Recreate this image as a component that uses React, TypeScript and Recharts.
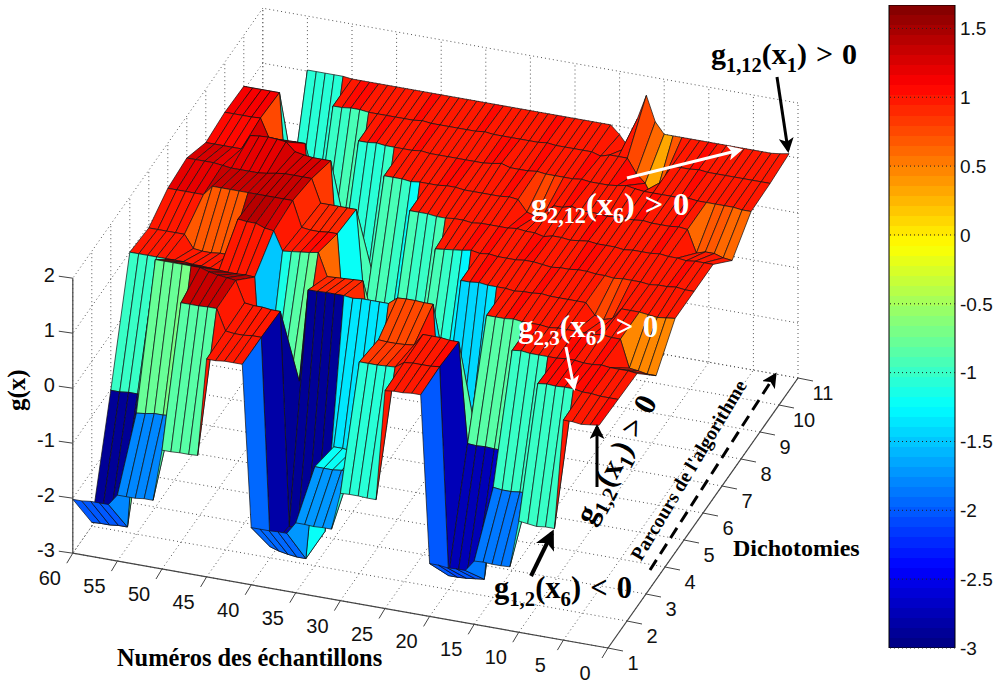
import React from 'react';
import { BarChart, Bar, ScatterChart, Scatter, XAxis, YAxis, ReferenceLine } from 'recharts';

// g(x) for samples 1..60, one list per dichotomy, grouped by class (5 samples each)
const dich1 = [
  1.02, 1.0, 0.98, 1.0, 1.0, -1.0, -1.0, -1.02, -1.0, -0.98, -1.84, -1.85, -1.85, -1.84, -1.85,
  -2.05, -2.05, -2.06, -2.04, -2.04, 1.0, 1.0, 0.98, 0.98, 0.96, -1.05, -1.05, -1.04, -1.04, -1.05,
  -1.73, -1.73, -1.74, -1.73, -1.73, -1.95, -1.95, -1.96, -1.96, -1.96, 0.98, 0.98, 0.98, 0.96, 0.96,
  -0.82, -0.83, -0.83, -0.84, -0.84, -1.78, -1.78, -1.8, -1.8, -1.8, -2.0, -2.0, -2.0, -2.02, -2.02,
];
const dich2 = [
  1.0, 1.0, 1.0, 1.02, 1.02, 1.05, 1.05, 1.04, 1.05, 1.03, -1.0, -1.0, -1.02, -1.02, -1.0,
  -2.7, -2.72, -2.74, -2.75, -2.75, 1.02, 1.0, 1.0, 1.0, 0.98, 0.87, 0.86, 0.85, 0.85, 0.85,
  -1.18, -1.18, -1.2, -1.2, -1.2, -2.9, -2.9, -2.88, -2.85, -2.8, 0.98, 0.98, 0.96, 0.96, 0.98,
  1.36, 1.36, 1.35, 1.35, 1.35, -0.73, -0.75, -0.75, -0.78, -0.8, -2.9, -2.9, -2.92, -2.92, -2.93,
];
const dich3 = [
  0.98, 1.0, 1.0, 1.0, 1.02, 1.0, 1.0, 1.02, 1.02, 1.0, 1.0, 1.0, 1.0, 1.02, 1.0,
  -0.85, -0.85, -0.84, -0.85, -0.84, 0.98, 0.98, 1.0, 1.0, 1.0, 0.78, 0.76, 0.75, 0.75, 0.76,
  -1.34, -1.34, -1.35, -1.33, -1.33, -2.9, -2.9, -2.9, -2.92, -2.92, 0.96, 0.96, 0.98, 0.98, 1.0,
  1.38, 1.4, 1.42, 1.45, 1.5, 1.5, 1.5, 1.5, 1.5, 1.5, -1.0, -1.0, -1.0, -1.02, -1.02,
];
const dich4 = [
  0.45, 0.45, 0.48, 0.5, 1.0, 1.0, 1.02, 1.0, 1.0, 1.0, 1.0, 1.0, 0.98, 1.0, 1.0,
  1.0, 1.02, 1.0, 1.0, 1.0, -1.35, -1.4, -1.45, -1.4, -1.35, 1.03, 1.03, 1.04, 1.04, 1.03,
  0.9, 0.9, 0.9, 0.9, 0.88, 0.9, 0.9, 0.9, 0.89, 0.89, -0.8, -0.85, -0.9, -1.15, -1.5,
  0.95, 0.96, 0.95, 0.95, 0.96, 0.97, 0.98, 0.98, 1.0, 1.0, 1.0, 1.0, 1.0, 1.0, 1.0,
];
const dich5 = [
  1.0, 0.98, 0.96, 0.98, 1.0, 1.0, 1.0, 0.8, 0.75, 0.8, 1.0, 1.0, 1.0, 1.0, 1.0,
  1.02, 1.0, 1.0, 0.98, 1.0, 1.0, 1.0, 1.02, 1.0, 1.0, -1.3, -1.05, -1.0, -0.95, -0.95,
  -0.7, -0.72, -0.75, -0.78, -0.8, 0.68, 0.67, 0.66, 0.65, 0.64, 1.05, 1.02, 1.0, 0.98, 0.96,
  1.3, 1.32, 1.38, 1.38, 1.4, 0.72, 0.72, 0.7, 0.7, 0.72, 0.95, 0.95, 0.95, 0.95, 0.95,
];
const dich6 = [
  1.0, 1.0, 1.02, 1.0, 1.0, 0.98, 1.0, 1.0, 1.0, 0.98, 1.0, 1.0, 1.02, 1.02, 1.0,
  1.0, 0.98, 1.0, 1.02, 1.02, 1.0, 1.0, 1.0, 1.02, 1.0, 1.03, 1.0, 0.98, 0.96, 0.94,
  -0.9, -1.0, -1.0, -0.95, -1.0, -1.1, -1.2, -1.2, -1.2, -1.2, 0.9, 0.9, 0.88, 0.88, 0.9,
  1.36, 1.36, 1.36, 1.36, 1.36, 1.36, 1.36, 1.36, 1.36, 1.36, 1.18, 1.18, 1.18, 1.18, 1.18,
];
const dich7 = [
  1.0, 1.0, 1.0, 0.98, 1.0, 1.0, 1.02, 1.0, 1.0, 1.0, 0.98, 1.0, 1.0, 1.0, 1.02,
  1.0, 0.98, 1.0, 1.0, 0.96, 1.0, 1.0, 1.02, 1.0, 1.0, 1.0, 1.0, 0.98, 1.0, 1.0,
  0.98, 0.98, 1.0, 1.0, 1.0, -1.2, -1.0, -0.95, -0.95, -0.95, 0.85, 0.85, 0.85, 0.85, 0.85,
  1.27, 1.27, 1.27, 1.27, 1.25, 1.22, 1.2, 1.2, 1.2, 1.2, 1.22, 1.24, 1.24, 1.24, 1.24,
];
const dich8 = [
  0.58, 0.6, 0.65, 0.65, 0.6, 1.0, 1.02, 1.0, 1.0, 1.0, 1.02, 1.0, 1.0, 1.0, 0.98,
  1.0, 1.0, 1.0, 1.05, 1.0, 1.0, 0.85, 0.75, 0.8, 1.0, 1.02, 1.0, 1.0, 1.0, 1.0,
  1.0, 1.02, 1.02, 1.0, 1.0, 1.0, 0.98, 1.0, 1.0, 1.0, -1.0, -1.05, -1.05, -1.05, -1.05,
  1.1, 1.1, 1.1, 1.12, 1.15, 1.3, 1.32, 1.33, 1.32, 1.3, 1.03, 1.03, 1.03, 1.03, 1.03,
];
const dich9 = [
  0.98, 0.98, 1.0, 1.0, 1.0, 1.0, 1.0, 1.02, 1.0, 1.0, 1.0, 1.0, 1.0, 1.02, 1.05,
  1.02, 1.0, 1.0, 1.0, 1.02, 1.0, 1.0, 1.0, 1.0, 1.02, 1.0, 1.0, 1.0, 1.05, 1.02,
  1.0, 1.0, 1.0, 1.0, 1.0, 1.0, 1.0, 1.02, 1.0, 1.0, 1.0, 1.0, 1.02, 1.0, 1.0,
  -0.95, -0.95, -1.0, -1.0, -1.05, 0.78, 0.78, 0.76, 0.75, 0.75, 1.1, 1.09, 1.09, 1.09, 1.09,
];
const dich10 = [
  1.0, 1.0, 1.0, 1.0, 1.0, 1.0, 1.0, 1.0, 1.02, 1.0, 1.0, 1.0, 0.7, 0.3, 0.6,
  0.75, 1.0, 1.0, 1.0, 0.95, 1.0, 1.0, 1.0, 1.0, 1.0, 1.02, 1.0, 1.0, 1.0, 1.0,
  1.0, 1.0, 1.02, 1.0, 1.0, 1.0, 1.0, 1.0, 1.0, 1.02, 1.0, 1.0, 1.0, 1.0, 1.0,
  1.0, 1.02, 1.02, 1.0, 1.0, -1.05, -1.05, -1.05, -1.05, -1.05, 1.07, 1.07, 1.07, 1.07, 1.07,
];
const dich11 = [
  1.05, 1.02, 1.0, 1.0, 1.0, 1.0, 1.0, 1.0, 1.0, 1.0, 1.0, 1.0, 1.0, 1.0, 1.0,
  1.2, 1.65, 1.2, 0.65, 0.85, 1.0, 1.0, 1.0, 1.0, 1.0, 1.0, 1.0, 1.0, 1.0, 1.0,
  1.0, 1.0, 1.0, 1.0, 1.0, 1.0, 1.0, 1.0, 1.0, 1.0, 1.0, 1.0, 1.0, 1.0, 1.0,
  1.0, 1.0, 1.0, 1.0, 1.0, 1.02, 1.02, 1.02, 1.02, 1.02, -1.4, -1.4, -1.4, -1.4, -1.4,
];
const surface = [dich1, dich2, dich3, dich4, dich5, dich6, dich7, dich8, dich9, dich10, dich11];

const sampleTicks = [0, 5, 10, 15, 20, 25, 30, 35, 40, 45, 50, 55, 60];
const dichotomyTicks = [1, 2, 3, 4, 5, 6, 7, 8, 9, 10, 11];
const gTicks = [-3, -2, -1, 0, 1, 2];
const colorbarTicks = [1.5, 1, 0.5, 0, -0.5, -1, -1.5, -2, -2.5, -3];
const C_MIN = -3;
const C_MAX = 1.67;

const project = (x: number, y: number, z: number) => ({
  sx: 608 - 8.92 * x + 19 * (y - 1),
  sy: 648 - 1.58 * x - 27 * (y - 1) - 55 * (z + 3),
});

// matlab jet, 64 levels
const jet = (t: number) => {
  const lvl = Math.min(63, Math.floor(t * 64));
  const v = (lvl + 0.5) / 64;
  const ch = (c: number) => Math.round(255 * Math.max(0, Math.min(1, 1.5 - Math.abs(4 * v - c))));
  return `rgb(${ch(3)},${ch(2)},${ch(1)})`;
};

// surface faces, far ones first so the near ones paint over them
const facePoints: { sx: number; sy: number }[] = [];
const faceColors: string[] = [];
for (let j = surface.length - 2; j >= 0; j--) {
  for (let i = 58; i >= 0; i--) {
    const corners: [number, number][] = [[i, j], [i + 1, j], [i + 1, j + 1], [i, j + 1]];
    corners.forEach(([a, b]) => facePoints.push(project(a + 1, b + 1, surface[b][a])));
    faceColors.push(jet((surface[j][i] - C_MIN) / (C_MAX - C_MIN)));
  }
}

const seg = (a: number[], b: number[]) => [project(a[0], a[1], a[2]), project(b[0], b[1], b[2])];

const dottedGrid = [
  ...sampleTicks.flatMap((x) => [...seg([x, 1, -3], [x, 11, -3]), ...seg([x, 11, -3], [x, 11, 2])]),
  ...dichotomyTicks.flatMap((y) => [...seg([0, y, -3], [60, y, -3]), ...seg([60, y, -3], [60, y, 2])]),
  ...gTicks.flatMap((z) => [...seg([0, 11, z], [60, 11, z]), ...seg([60, 11, z], [60, 1, z])]),
];
const axisLines = [...seg([0, 1, -3], [60, 1, -3]), ...seg([0, 1, -3], [0, 11, -3]), ...seg([60, 1, -3], [60, 1, 2])];

const sampleTickPoints = sampleTicks.map((v) => ({ ...project(v, 1, -3), label: String(v), kind: 'x' }));
const dichotomyTickPoints = dichotomyTicks.map((v) => ({ ...project(0, v, -3), label: String(v), kind: 'y' }));
const gTickPoints = gTicks.map((v) => ({ ...project(60, 1, v), label: String(v), kind: 'z' }));
const tickPoints = [...sampleTickPoints, ...dichotomyTickPoints, ...gTickPoints];

const noDot = () => <g />;

const drawFaces = (props: any) => {
  const pts = props.points;
  const out = [];
  for (let k = 0; k + 3 < pts.length; k += 4) {
    const p = pts.slice(k, k + 4).map((q: any) => `${q.x},${q.y}`).join(' ');
    out.push(<polygon key={k} points={p} fill={faceColors[k / 4]} stroke="#111" strokeWidth={0.7} strokeLinejoin="round" />);
  }
  return <g>{out}</g>;
};

const drawSegments = (stroke: string, width: number, dash?: string) => (props: any) => {
  const pts = props.points;
  const out = [];
  for (let k = 0; k + 1 < pts.length; k += 2) {
    out.push(
      <line key={k} x1={pts[k].x} y1={pts[k].y} x2={pts[k + 1].x} y2={pts[k + 1].y} stroke={stroke} strokeWidth={width} strokeDasharray={dash} />
    );
  }
  return <g>{out}</g>;
};

const TickMark = (props: any) => {
  const { cx, cy, payload } = props;
  const offs: any = {
    x: { tx: -6, ty: 10, lx: -23, ly: 32, anchor: 'middle' },
    y: { tx: 15, ty: 3, lx: 25, ly: 22, anchor: 'middle' },
    z: { tx: -14, ty: -2, lx: -18, ly: 4, anchor: 'end' },
  };
  const o = offs[payload.kind];
  return (
    <g>
      <line x1={cx} y1={cy} x2={cx + o.tx} y2={cy + o.ty} stroke="#444" strokeWidth={1} />
      <text x={cx + o.lx} y={cy + o.ly} textAnchor={o.anchor} fontFamily="Liberation Sans" fontSize={20} fill="#111">
        {payload.label}
      </text>
    </g>
  );
};

const SERIF = 'Liberation Serif';

const Formula = ({ x, y, g, n, gt, size, fill, rotate }: any) => (
  <text
    x={x}
    y={y}
    fontFamily={SERIF}
    fontWeight="bold"
    fontSize={size}
    fill={fill}
    transform={rotate ? `rotate(${rotate} ${x} ${y})` : undefined}
  >
    g<tspan dy={size * 0.25} fontSize={size * 0.68}>{g}</tspan>
    <tspan dy={-size * 0.25}>(x</tspan>
    <tspan dy={size * 0.25} fontSize={size * 0.68}>{n}</tspan>
    <tspan dy={-size * 0.25}>)</tspan>
    <tspan dx={size * 0.3}>{gt}</tspan>
    <tspan dx={size * 0.3}>0</tspan>
  </text>
);

const Arrow = ({ x1, y1, x2, y2, color, width = 3, dash }: any) => (
  <line x1={x1} y1={y1} x2={x2} y2={y2} stroke={color} strokeWidth={width} strokeDasharray={dash} markerEnd={`url(#head-${color === '#fff' ? 'w' : 'k'})`} />
);

const barData = [{ name: 'g', range: [C_MIN, C_MAX] }];
const jetStops = Array.from({ length: 64 }, (_, i) => i);

export default function App() {
  return (
    <div style={{ position: 'absolute', left: 0, top: 0, width: 1000, height: 684, background: '#fff' }}>
      <div style={{ position: 'absolute', left: 0, top: 0 }}>
        <ScatterChart width={1000} height={684} margin={{ top: 0, right: 0, bottom: 0, left: 0 }}>
          <XAxis type="number" dataKey="sx" domain={[0, 1000]} hide />
          <YAxis type="number" dataKey="sy" domain={[0, 684]} reversed hide />
          <Scatter data={dottedGrid} shape={noDot} line={drawSegments('#555', 1, '1 3')} isAnimationActive={false} />
          <Scatter data={axisLines} shape={noDot} line={drawSegments('#444', 1.2)} isAnimationActive={false} />
          <Scatter data={tickPoints} shape={TickMark} isAnimationActive={false} />
          <Scatter data={facePoints} shape={noDot} line={drawFaces} isAnimationActive={false} />
        </ScatterChart>
      </div>
      <div style={{ position: 'absolute', left: 0, top: 0 }}>
        <BarChart width={1000} height={684} data={barData} barCategoryGap={0} margin={{ top: 5, right: 0, bottom: 36, left: 889 }}>
          <defs>
            <linearGradient id="jetBar" x1="0" y1="1" x2="0" y2="0">
              {jetStops.flatMap((i) => [
                <stop key={`a${i}`} offset={i / 64} stopColor={jet((i + 0.5) / 64)} />,
                <stop key={`b${i}`} offset={(i + 1) / 64} stopColor={jet((i + 0.5) / 64)} />,
              ])}
            </linearGradient>
          </defs>
          <XAxis dataKey="name" hide />
          <YAxis
            orientation="right"
            width={45}
            type="number"
            domain={[C_MIN, C_MAX]}
            ticks={colorbarTicks}
            allowDataOverflow
            tickLine={false}
            axisLine={false}
            interval={0}
            tick={{ fontFamily: 'Liberation Sans', fontSize: 19, fill: '#111', dx: -3 }}
          />
          <Bar dataKey="range" fill="url(#jetBar)" stroke="#000" strokeWidth={1} isAnimationActive={false} />
          {colorbarTicks.map((t) => (
            <ReferenceLine key={t} y={t} stroke="#222" strokeDasharray="1 3" strokeWidth={1} />
          ))}
        </BarChart>
      </div>
      {/* annotations sit above the surface */}
      <svg width={1000} height={684} style={{ position: 'absolute', left: 0, top: 0, pointerEvents: 'none' }}>
        <defs>
          <marker id="head-k" viewBox="0 0 10 10" refX="8" refY="5" markerWidth="5" markerHeight="5" orient="auto">
            <path d="M0 0 L10 5 L0 10 L2.5 5 Z" fill="#000" />
          </marker>
          <marker id="head-w" viewBox="0 0 10 10" refX="8" refY="5" markerWidth="5" markerHeight="5" orient="auto">
            <path d="M0 0 L10 5 L0 10 L2.5 5 Z" fill="#fff" />
          </marker>
        </defs>
        <Formula x={711} y={64} g="1,12" n="1" gt=">" size={30} fill="#000" />
        <Arrow x1={777} y1={77} x2={788} y2={150} color="#000" />
        <Formula x={531} y={215} g="2,12" n="6" gt=">" size={32.5} fill="#fff" />
        <Arrow x1={627} y1={178} x2={740} y2={150} color="#fff" />
        <Formula x={518} y={337} g="2,3" n="6" gt=">" size={31} fill="#fff" />
        <Arrow x1={566} y1={347} x2={574} y2={388} color="#fff" />
        <Formula x={592} y={526} g="1,2" n="1" gt=">" size={31} fill="#000" rotate={-62} />
        <Arrow x1={597} y1={487} x2={597} y2={427} color="#000" />
        <Formula x={494} y={598} g="1,2" n="6" gt="<" size={30.5} fill="#000" />
        <Arrow x1={531} y1={576} x2={552} y2={533} color="#000" width={4} />
        <Arrow x1={650} y1={570} x2={775} y2={375} color="#000" dash="12 7" />

        <text x={641} y={562} fontFamily={SERIF} fontWeight="bold" fontSize={19.5} fill="#000" transform="rotate(-59 641 562)">
          Parcours de l'algorithme
        </text>
        <text x={733} y={556} fontFamily={SERIF} fontWeight="bold" fontSize={24} fill="#000">Dichotomies</text>
        <text x={117} y={666} fontFamily={SERIF} fontWeight="bold" fontSize={24.4} fill="#000">Numéros des échantillons</text>
        <text x={25} y={411} fontFamily={SERIF} fontWeight="bold" fontSize={25} fill="#000" transform="rotate(-90 25 411)">g(x)</text>
      </svg>
    </div>
  );
}
